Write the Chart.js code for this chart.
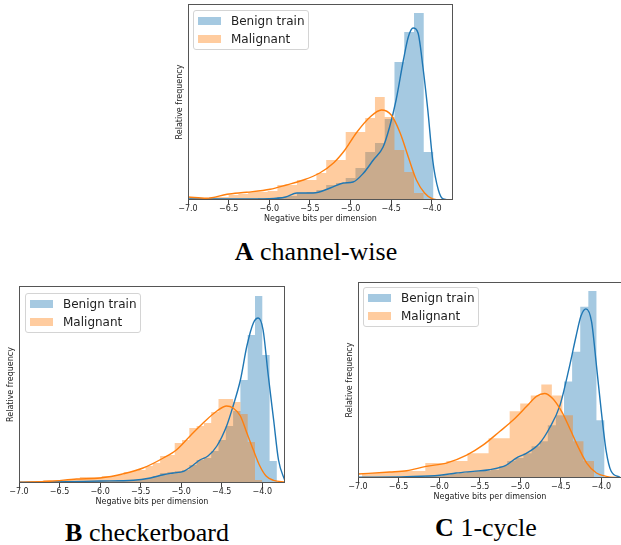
<!DOCTYPE html>
<html>
<head>
<meta charset="utf-8">
<script src="https://cdn.jsdelivr.net/npm/chart.js@4.4.0/dist/chart.umd.min.js"></script>
<style>
  body { margin: 0; width: 621px; height: 545px; background: #fff; position: relative; overflow: hidden; font-family: "DejaVu Sans", sans-serif; }
  canvas { position: absolute; }
  .legend { position: absolute; width: 116px; height: 40px; box-sizing: border-box; border: 1px solid #d4d4d4; border-radius: 3px; background: rgba(255,255,255,0.8); font-size: 12px; color: #222; }
  .row { position: absolute; left: 4px; height: 14px; line-height: 14px; }
  .swatch { position: absolute; left: 0; top: 3px; width: 23px; height: 8px; }
  .row span { position: absolute; left: 33px; white-space: nowrap; }
  .caption { position: absolute; font-family: "Liberation Serif", "Times New Roman", serif; font-size: 26px; line-height: 26px; white-space: nowrap; transform: translateX(-50%); color: #000; }
</style>
</head>
<body>
<script>
const seriesNames = ["Benign train", "Malignant"];
const xTicks = [-7.0, -6.5, -6.0, -5.5, -5.0, -4.5, -4.0];

// A channel-wise: histogram bins (start, width, heights) and KDE curves [x, density]
const aBinStart = -6.98, aBinWidth = 0.12;
const aBenignHist = [0.01,0.01,0.01,0.01,0.01,0.01,0.01,0.02,0.02,0.03,0.04,0.07,0.08,0.10,0.15,0.17,0.22,0.32,0.48,0.57,0.81,1.38,1.68,1.87,0.48];
const aMalignantHist = [0.03,0.02,0.03,0.03,0.05,0.06,0.08,0.08,0.09,0.15,0.15,0.20,0.20,0.27,0.40,0.40,0.68,0.68,0.82,1.03,0.83,0.50,0.28,0.07];
const aBenignKde = [[-7.0,0.01],[-6.4,0.01],[-6.0,0.013],[-5.8,0.03],[-5.66,0.07],[-5.46,0.07],[-5.25,0.12],[-5.09,0.17],[-4.97,0.18],[-4.84,0.27],[-4.72,0.4],[-4.6,0.53],[-4.52,0.73],[-4.44,1.0],[-4.35,1.4],[-4.29,1.63],[-4.23,1.72],[-4.17,1.67],[-4.11,1.33],[-4.05,0.9],[-3.99,0.4],[-3.92,0.1],[-3.86,0.01],[-3.74,0]];
const aMalignantKde = [[-7.0,0.03],[-6.77,0.017],[-6.52,0.057],[-6.28,0.077],[-5.99,0.107],[-5.79,0.15],[-5.58,0.2],[-5.38,0.27],[-5.21,0.37],[-5.07,0.5],[-4.93,0.67],[-4.76,0.83],[-4.62,0.9],[-4.5,0.85],[-4.39,0.67],[-4.29,0.43],[-4.19,0.2],[-4.09,0.07],[-3.99,0.01],[-3.88,0],[-3.74,0]];

// B checkerboard
const bBinStart = -6.97, bBinWidth = 0.09;
const bBenignHist = [0.01,0.01,0.01,0.01,0.01,0.01,0.01,0.02,0.02,0.02,0.02,0.02,0.02,0.03,0.03,0.03,0.04,0.05,0.07,0.10,0.11,0.12,0.13,0.18,0.23,0.25,0.32,0.43,0.57,0.72,1.03,1.48,1.87,1.28,0.22];
const bMalignantHist = [0.01,0.01,0.02,0.03,0.03,0.03,0.03,0.04,0.06,0.06,0.06,0.07,0.07,0.08,0.11,0.12,0.13,0.17,0.20,0.27,0.28,0.40,0.43,0.55,0.57,0.60,0.71,0.84,0.84,0.81,0.69,0.41,0.03];
const bBenignKde = [[-7.0,0.007],[-6.41,0.013],[-6.0,0.02],[-5.59,0.027],[-5.38,0.05],[-5.22,0.083],[-5.1,0.1],[-4.97,0.117],[-4.85,0.18],[-4.77,0.23],[-4.67,0.27],[-4.56,0.37],[-4.44,0.57],[-4.36,0.77],[-4.27,1.03],[-4.19,1.37],[-4.11,1.6],[-4.05,1.65],[-3.99,1.53],[-3.93,1.1],[-3.86,0.63],[-3.8,0.23],[-3.72,0.02]];
const bMalignantKde = [[-7.0,0.007],[-6.62,0.017],[-6.29,0.04],[-6.0,0.05],[-5.71,0.093],[-5.47,0.15],[-5.22,0.25],[-5.06,0.33],[-4.89,0.47],[-4.73,0.6],[-4.56,0.72],[-4.44,0.77],[-4.36,0.75],[-4.27,0.67],[-4.19,0.5],[-4.11,0.33],[-4.03,0.17],[-3.95,0.067],[-3.86,0.027],[-3.72,0.01]];

// C 1-cycle
const cBenignStart = -6.96, cBenignWidth = 0.1;
const cMalignantStart = -6.95, cMalignantWidth = 0.13;
const cBenignHist = [0.01,0.01,0.01,0.01,0.01,0.01,0.01,0.01,0.02,0.02,0.03,0.04,0.05,0.06,0.07,0.07,0.08,0.12,0.17,0.20,0.25,0.32,0.37,0.53,0.63,0.97,1.27,1.72,1.88,0.58];
const cMalignantHist = [0.05,0.05,0.06,0.07,0.07,0.07,0.15,0.15,0.17,0.17,0.25,0.25,0.40,0.40,0.67,0.75,0.83,0.94,0.83,0.63,0.37,0.17];
const cBenignKde = [[-7.0,0.007],[-6.4,0.013],[-5.99,0.027],[-5.79,0.05],[-5.58,0.067],[-5.38,0.083],[-5.17,0.13],[-5.05,0.2],[-4.92,0.25],[-4.76,0.35],[-4.64,0.5],[-4.51,0.73],[-4.39,1.13],[-4.31,1.43],[-4.25,1.63],[-4.19,1.7],[-4.12,1.57],[-4.06,1.13],[-4.0,0.67],[-3.94,0.27],[-3.88,0.07],[-3.77,0.007]];
const cMalignantKde = [[-7.0,0.04],[-6.61,0.06],[-6.4,0.073],[-6.16,0.117],[-5.91,0.15],[-5.66,0.23],[-5.46,0.33],[-5.25,0.47],[-5.09,0.58],[-4.92,0.72],[-4.8,0.82],[-4.7,0.85],[-4.6,0.8],[-4.49,0.67],[-4.39,0.5],[-4.29,0.32],[-4.18,0.15],[-4.06,0.05],[-3.94,0.017],[-3.77,0]];

const blue = "31,119,180";
const orange = "255,127,14";
const font8 = { family: "DejaVu Sans", size: 8 };

// Panels: frame rectangle in page pixels, axis limits, caption
const panels = [
  { left: 188, top: 4, right: 453, bottom: 200, xMin: -7.0, xMax: -3.74, yMax: 1.96,
    benign: [aBinStart, aBinWidth, aBenignHist], malignant: [aBinStart, aBinWidth, aMalignantHist],
    benignKde: aBenignKde, malignantKde: aMalignantKde,
    legend: [193, 10], letter: "A", caption: " channel-wise", capX: 316, capY: 252 },
  { left: 19, top: 286, right: 285, bottom: 483, xMin: -7.0, xMax: -3.72, yMax: 1.97,
    benign: [bBinStart, bBinWidth, bBenignHist], malignant: [bBinStart, bBinWidth, bMalignantHist],
    benignKde: bBenignKde, malignantKde: bMalignantKde,
    legend: [25, 293], letter: "B", caption: " checkerboard", capX: 147, capY: 533 },
  { left: 358, top: 282, right: 622, bottom: 478, xMin: -7.0, xMax: -3.745, yMax: 1.97,
    benign: [cBenignStart, cBenignWidth, cBenignHist], malignant: [cMalignantStart, cMalignantWidth, cMalignantHist],
    benignKde: cBenignKde, malignantKde: cMalignantKde,
    legend: [363, 287], letter: "C", caption: " 1-cycle", capX: 486, capY: 528 },
];

// Turn bins into step points for a filled stepped line
const histPoints = ([start, width, heights]) => {
  const pts = heights.map((h, i) => ({ x: start + i * width, y: h }));
  pts.push({ x: start + heights.length * width, y: heights[heights.length - 1] });
  return pts;
};
const kdePoints = (pairs) => pairs.map(([x, y]) => ({ x, y }));

// Box around the plot area
const frame = {
  id: "frame",
  afterDatasetsDraw(chart) {
    const { ctx, chartArea: a } = chart;
    ctx.save();
    ctx.strokeStyle = "#555";
    ctx.lineWidth = 1;
    ctx.strokeRect(Math.round(a.left) + 0.5, Math.round(a.top) + 0.5, Math.round(a.right - a.left) - 1, Math.round(a.bottom - a.top) - 1);
    ctx.restore();
  },
};

const histSet = (label, color, data, order) => ({
  label, data, order,
  stepped: "before", fill: "origin",
  backgroundColor: `rgba(${color},0.4)`, borderColor: "rgba(0,0,0,0)", borderWidth: 0, pointRadius: 0,
});
const kdeSet = (label, color, data, order) => ({
  label, data, order,
  fill: false, borderColor: `rgb(${color})`, borderWidth: 1.4, pointRadius: 0,
  cubicInterpolationMode: "monotone",
});

panels.forEach((p) => {
  const canvas = document.createElement("canvas");
  const w = p.right - p.left + 20 + 2;
  const h = p.bottom - p.top + 4 + 28;
  canvas.width = w;
  canvas.height = h;
  canvas.style.left = (p.left - 20) + "px";
  canvas.style.top = (p.top - 4) + "px";
  canvas.style.width = w + "px";
  canvas.style.height = h + "px";
  document.body.appendChild(canvas);

  // lower order is drawn on top: both histograms first, then the two curves
  new Chart(canvas, {
    type: "line",
    plugins: [frame],
    data: {
      datasets: [
        histSet(seriesNames[0], blue, histPoints(p.benign), 4),
        histSet(seriesNames[1], orange, histPoints(p.malignant), 3),
        kdeSet(seriesNames[0], blue, kdePoints(p.benignKde), 2),
        kdeSet(seriesNames[1], orange, kdePoints(p.malignantKde), 1),
      ],
    },
    options: {
      responsive: false,
      animation: false,
      layout: { padding: { top: 4, right: 2, left: 0, bottom: 0 } },
      plugins: { legend: { display: false }, tooltip: { enabled: false } },
      scales: {
        x: {
          type: "linear", min: p.xMin, max: p.xMax,
          afterFit: (s) => { s.height = 28; },
          afterBuildTicks: (s) => { s.ticks = xTicks.map((v) => ({ value: v })); },
          ticks: {
            padding: 0, maxRotation: 0, autoSkip: false, color: "#222", font: font8,
            callback: (v) => (v < 0 ? "\u2212" : "") + Math.abs(v).toFixed(1),
          },
          grid: { display: true, drawOnChartArea: false, drawTicks: true, tickLength: 4, color: "#444", tickColor: "#444" },
          border: { display: false },
          title: { display: true, text: "Negative bits per dimension", color: "#222", font: font8, padding: { top: 0, bottom: 4 } },
        },
        y: {
          min: 0, max: p.yMax,
          afterFit: (s) => { s.width = 20; },
          ticks: { display: false },
          grid: { display: false },
          border: { display: false },
          title: { display: true, text: "Relative frequency", color: "#222", font: font8, padding: { top: 7, bottom: 0 } },
        },
      },
    },
  });

  // legend box
  const lg = document.createElement("div");
  lg.className = "legend";
  lg.style.left = p.legend[0] + "px";
  lg.style.top = p.legend[1] + "px";
  [blue, orange].forEach((c, i) => {
    const row = document.createElement("div");
    row.className = "row";
    row.style.top = (3 + i * 18) + "px";
    row.innerHTML = `<div class="swatch" style="background:rgba(${c},0.4)"></div><span>${seriesNames[i]}</span>`;
    lg.appendChild(row);
  });
  document.body.appendChild(lg);

  // caption
  const cap = document.createElement("div");
  cap.className = "caption";
  cap.style.left = p.capX + "px";
  cap.style.top = (p.capY - 13) + "px";
  cap.innerHTML = `<b>${p.letter}</b>${p.caption}`;
  document.body.appendChild(cap);
});
</script>
</body>
</html>
